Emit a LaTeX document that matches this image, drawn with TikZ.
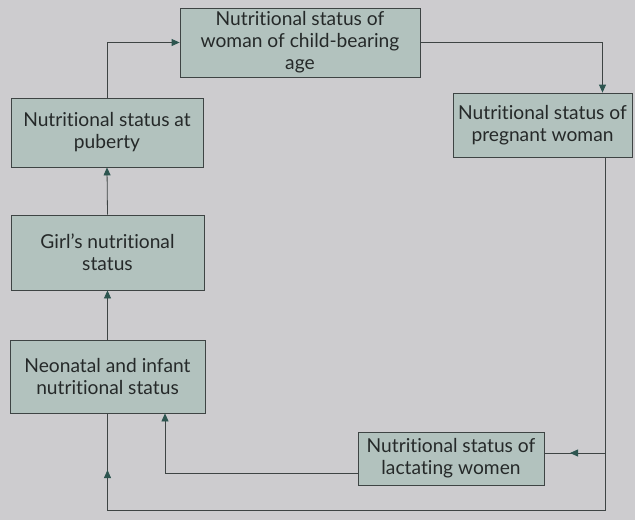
\documentclass[tikz,border=0pt]{standalone}
\usepackage{fontspec}
\setmainfont{Lato}[Ligatures=NoCommon]
\usetikzlibrary{arrows.meta, positioning}
\definecolor{paper}{RGB}{205,204,207}
\definecolor{boxfill}{RGB}{178,194,190}
\definecolor{ink}{RGB}{62,68,68}
\definecolor{tip}{RGB}{45,85,80}

\begin{document}
\begin{tikzpicture}[x=1pt, y=-1pt,
    sbox/.style={draw=ink, line width=0.8pt, fill=boxfill, text=ink!60!black, align=center, inner sep=0pt, font=\fontsize{19.2}{22}\selectfont},
    ln/.style={draw=ink, line width=0.8pt},
    arr/.style={ln, -{Triangle[length=8pt, width=7pt, color=tip]}},
  ]
  \fill[paper] (0,0) rectangle (635,520);
  \useasboundingbox (0,0) rectangle (635,520);

  % boxes
  \node[sbox, minimum width=240pt, minimum height=69pt] (woman) at (300,42.5) {Nutritional status of\\woman of child-bearing\\age};
  \node[sbox, minimum width=192pt, minimum height=69pt] (puberty) at (107,132.5) {Nutritional status at\\puberty};
  \node[sbox, minimum width=193pt, minimum height=75pt] (girl) at (107.5,252.5) {Girl's nutritional\\status};
  \node[sbox, minimum width=195pt, minimum height=73pt] (neonatal) at (107.5,376.5) {Neonatal and infant\\nutritional status};
  \node[sbox, minimum width=179pt, minimum height=64pt] (pregnant) at (542.5,125) {Nutritional status of\\pregnant woman};
  \node[sbox, minimum width=186pt, minimum height=53pt] (lactating) at (451,458.5) {Nutritional status of\\lactating women};

  \coordinate (loop) at (605,510);
  \coordinate (inf) at (107.5,470);
  \coordinate (lac) at (570,453);

  % connectors
  \draw[arr] (puberty.north) |- (woman.west);
  \draw[arr] (woman.east) -| ([xshift=60pt]pregnant.north);
  \draw[ln] ([xshift=62.5pt]pregnant.south) -- (loop) -| (neonatal.south);
  \draw[arr] (loop -| neonatal.south) -- (inf);
  \draw[ln] (loop |- lac) -- (lac -| lactating.east);
  \draw[arr] (loop |- lac) -- (lac);
  \draw[arr] ([yshift=-14.5pt]lactating.west) -| ([xshift=57.5pt]neonatal.south);
  \draw[arr] (neonatal.north) -- (girl.south);
  \draw[arr] (girl.north) -- (puberty.south);
\end{tikzpicture}
\end{document}
